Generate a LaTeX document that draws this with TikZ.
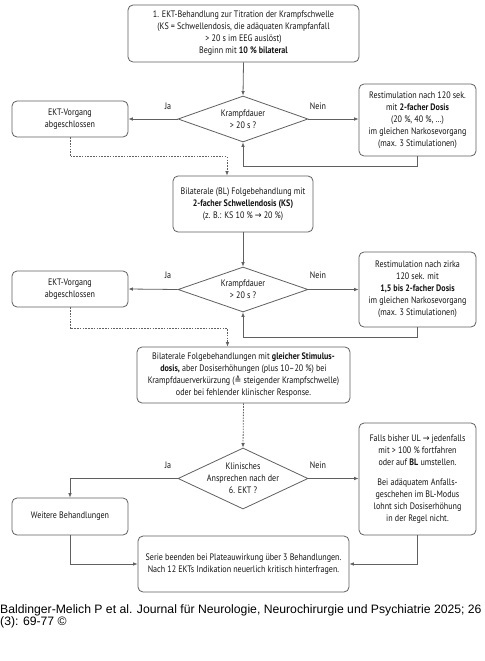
\documentclass[tikz,border=0pt]{standalone}
\usepackage{fontspec}
\setmainfont{PT Sans}[FakeStretch=0.86]
\newfontfamily\symfont{DejaVu Sans}[FakeStretch=0.86]
\newfontfamily\footfont{Liberation Sans}
\usetikzlibrary{shapes.geometric,arrows.meta,calc}
\definecolor{lc}{HTML}{606060}
\definecolor{tc}{HTML}{141414}
\begin{document}
\begin{tikzpicture}[x=1bp,y=-1bp,
  every node/.style={text=tc},
  txt/.style={font=\fontsize{9.4}{12}\selectfont, align=center},
  box/.style={txt, draw=lc, line width=0.8bp, rounded corners=5bp, inner sep=0pt},
  dia/.style={shape=diamond, draw=lc, line width=0.8bp, inner sep=0pt},
  arr/.style={draw=lc, line width=0.8bp, -{Latex[length=4.5bp,width=3.6bp]}},
  darr/.style={arr, dash pattern=on 1.6bp off 1.2bp},
  lab/.style={txt}]
\useasboundingbox[fill=white] (0,0) rectangle (485,661);

% top
\node[box, minimum width=231bp, minimum height=57bp] (top) at (243.5,33.5)
 {1. EKT-Behandlung zur Titration der Krampfschwelle\\(KS = Schwellendosis, die adäquaten Krampfanfall\\> 20 s im EEG auslöst)\\Beginn mit \textbf{10 \% bilateral}};

% level 1
\node[dia, minimum width=130bp, minimum height=46bp] (d1) at (243,119) {};
\node[txt] (d1t) at (d1) {Krampfdauer\\> 20 s ?};
\node[box, minimum width=116bp, minimum height=36bp] (e1) at (70,119) {EKT-Vorgang\\abgeschlossen};
\node[box, minimum width=117bp, minimum height=72bp] (r1) at (417.5,120)
 {Restimulation nach 120 sek.\\mit \textbf{2-facher Dosis}\\(20 \%, 40 \%, \dots)\\im gleichen Narkosevorgang\\(max. 3 Stimulationen)};
\node[lab] (ja1) at (168,106) {Ja};
\node[lab] (ne1) at (318,106) {Nein};

% level 2
\node[box, minimum width=140bp, minimum height=56bp] (b2) at (243,204)
 {Bilaterale (BL) Folgebehandlung mit\\\textbf{2-facher Schwellendosis (KS)}\\(z. B.: KS 10 \% {\symfont →} 20 \%)};
\node[dia, minimum width=130bp, minimum height=45bp] (d2) at (243,289.5) {};
\node[txt] (d2t) at (d2) {Krampfdauer\\> 20 s ?};
\node[box, minimum width=116bp, minimum height=36bp] (e2) at (70,289) {EKT-Vorgang\\abgeschlossen};
\node[box, minimum width=117bp, minimum height=75bp] (r2) at (417.5,289.5)
 {Restimulation nach zirka\\120 sek. mit\\\textbf{1,5 bis 2-facher Dosis}\\im gleichen Narkosevorgang\\(max. 3 Stimulationen)};
\node[lab] (ja2) at (168,275) {Ja};
\node[lab] (ne2) at (318,275) {Nein};

% level 3
\node[box, minimum width=213bp, minimum height=56bp] (b3) at (243.5,375)
 {Bilaterale Folgebehandlungen mit \textbf{gleicher Stimulus-}\\\textbf{dosis,} aber Dosiserhöhungen (plus 10--20 \%) bei\\Krampfdauerverkürzung ({\symfont ≙} steigender Krampfschwelle)\\oder bei fehlender klinischer Response.};
\node[dia, minimum width=130bp, minimum height=61bp] (d3) at (243,478.5) {};
\node[txt] (d3t) at (d3) {Klinisches\\Ansprechen nach der\\6. EKT ?};
\node[box, minimum width=116bp, minimum height=37bp] (w) at (70,516.5) {Weitere Behandlungen};
\node[box, minimum width=117bp, minimum height=112bp] (f) at (417.5,479)
 {Falls bisher UL {\symfont →} jedenfalls\\mit > 100 \% fortfahren\\oder auf \textbf{BL} umstellen.\\[8bp]Bei adäquatem Anfalls-\\geschehen im BL-Modus\\lohnt sich Dosiserhöhung\\in der Regel nicht.};
\node[lab] (ja3) at (168,465) {Ja};
\node[lab] (ne3) at (318,465) {Nein};

\node[box, minimum width=211bp, minimum height=56bp] (fin) at (243.5,564)
 {Serie beenden bei Plateauwirkung über 3 Behandlungen.\\Nach 12 EKTs Indikation neuerlich kritisch hinterfragen.};

% footer
\node[anchor=west, inner sep=0pt, align=left, text=black,
      font=\footfont\fontsize{12.25}{12}\selectfont] (foot) at (0,616)
 {Baldinger-Melich P et al. Journal für Neurologie, Neurochirurgie und Psychiatrie 2025; 26\\(3): 69-77 ©};

% connectors
\draw[arr] (top.south) -- (d1.north);
\draw[arr] (d1.west) -- (e1.east);
\draw[arr] (d1.east) -- (r1.west |- d1.east);
\draw[arr] (r1.south) -- ++(0,10) -| (d1.south);
\draw[darr] (e1.south) -- ++(0,19) -| ([xshift=-16bp]b2.north);

\draw[arr] (b2.south) -- (d2.north);
\draw[arr] (d2.west) -- (e2.east);
\draw[arr] (d2.east) -- (r2.west |- d2.east);
\draw[arr] (r2.south) -- ++(0,10) -| (d2.south);
\draw[darr] (e2.south) -- ++(0,21) -| ([xshift=-16bp]b3.north);

\draw[darr] (b3.south) -- (d3.north);
\draw[arr] (d3.west) -| (w.north);
\draw[arr] (d3.east) -- (f.west |- d3.east);
\draw[arr] (w.south) |- (fin.west);
\draw[arr] (f.south) |- (fin.east);
\end{tikzpicture}
\end{document}
